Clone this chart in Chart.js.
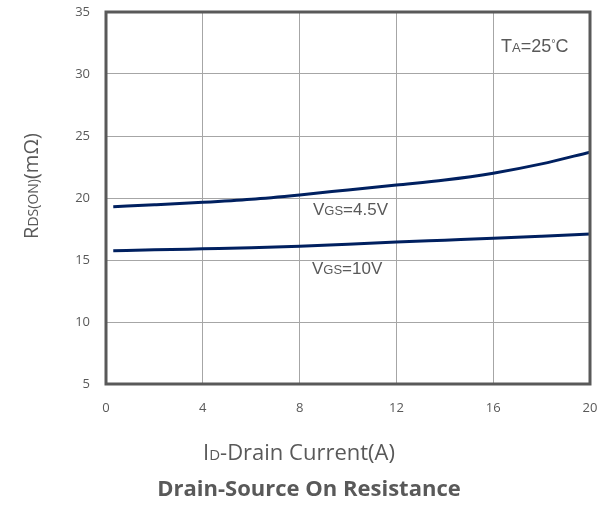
<!DOCTYPE html>
<html>
<head>
<meta charset="utf-8">
<script src="https://cdn.jsdelivr.net/npm/chart.js@4"></script>
<style>
  html, body { margin: 0; padding: 0; background: #fff; }
  #wrap { width: 608px; height: 505px; position: relative; }
</style>
</head>
<body>
<div id="wrap"><canvas id="rdsChart"></canvas></div>
<script>
// data
const currentA = [0.3, 2, 4, 6, 8, 10, 12, 14, 16, 18, 20];
const rdsVgs45 = [19.3, 19.45, 19.65, 19.9, 20.25, 20.65, 21.05, 21.45, 22.0, 22.75, 23.7];
const rdsVgs10 = [15.75, 15.82, 15.9, 15.98, 16.1, 16.28, 16.45, 16.6, 16.75, 16.92, 17.1];
const xTicks = [0, 4, 8, 12, 16, 20];
const yTicks = [5, 10, 15, 20, 25, 30, 35];

const GREY = '#595959', NAVY = '#002060';
const pts = ys => currentA.map((x, i) => ({ x, y: ys[i] }));

// draw a run of [text, size, rise] pieces on one baseline
function rich(ctx, parts, x, y, align, weight, family) {
  const fam = family || "'Liberation Sans', Arial, sans-serif";
  let total = 0;
  parts.forEach(p => { ctx.font = `${weight||'normal'} ${p[1]}px ${fam}`; total += ctx.measureText(p[0]).width; });
  let cx = align === 'center' ? x - total / 2 : x;
  ctx.textAlign = 'left'; ctx.textBaseline = 'alphabetic';
  parts.forEach(p => {
    ctx.font = `${weight||'normal'} ${p[1]}px ${fam}`;
    ctx.fillText(p[0], cx, y - (p[2] || 0));
    cx += ctx.measureText(p[0]).width;
  });
}

const decor = {
  id: 'decor',
  afterDraw(c) {
    const { ctx, chartArea: a } = c;
    ctx.save();
    ctx.strokeStyle = GREY; ctx.lineWidth = 3;
    ctx.strokeRect(a.left, a.top, a.right - a.left, a.bottom - a.top);
    ctx.fillStyle = GREY;
    rich(ctx, [['V', 17], ['GS', 13], ['=4.5V', 17]], 313, 215);
    rich(ctx, [['V', 17], ['GS', 13], ['=10V', 17]], 312, 274);
    rich(ctx, [['T', 18], ['A', 13], ['=25', 18], ['°', 11, 5], ['C', 18]], 501, 52);
    const op = "'Open Sans', sans-serif";
    rich(ctx, [['I', 22], ['D', 15], ['-Drain Current(A)', 22]], 299, 460, 'center', 'normal', op);
    rich(ctx, [['Drain-Source On Resistance', 22]], 309, 496, 'center', 'bold', op);
    ctx.translate(38, 186); ctx.rotate(-Math.PI / 2);
    rich(ctx, [['R', 20], ['DS(ON)', 14], ['(mΩ)', 20]], 0, 0, 'center', 'normal', op);
    ctx.restore();
  }
};

new Chart(document.getElementById('rdsChart'), {
  type: 'line',
  data: {
    datasets: [
      { data: pts(rdsVgs45), borderColor: NAVY, borderWidth: 3, pointRadius: 0, cubicInterpolationMode: 'monotone', fill: false },
      { data: pts(rdsVgs10), borderColor: NAVY, borderWidth: 3, pointRadius: 0, cubicInterpolationMode: 'monotone', fill: false }
    ]
  },
  options: {
    responsive: true, maintainAspectRatio: false, animation: false,
    layout: { padding: { top: 12, right: 18, left: 0, bottom: 0 } },
    plugins: { legend: { display: false }, tooltip: { enabled: false } },
    scales: {
      x: {
        type: 'linear', min: 0, max: 20,
        afterBuildTicks: s => { s.ticks = xTicks.map(v => ({ value: v })); },
        afterFit: s => { s.height = 121; s.paddingLeft = 0; s.paddingRight = 0; },
        grid: { color: '#a6a6a6', lineWidth: 1, drawTicks: false },
        border: { display: false },
        ticks: { padding: 16, font: { size: 13, family: "'Open Sans', sans-serif" }, color: GREY }
      },
      y: {
        min: 5, max: 35,
        afterBuildTicks: s => { s.ticks = yTicks.map(v => ({ value: v })); },
        afterFit: s => { s.width = 106; s.paddingTop = 0; s.paddingBottom = 0; },
        grid: { color: '#a6a6a6', lineWidth: 1, drawTicks: false },
        border: { display: false },
        ticks: { padding: 16, font: { size: 13, family: "'Open Sans', sans-serif" }, color: GREY }
      }
    }
  },
  plugins: [decor]
});
</script>
</body>
</html>
